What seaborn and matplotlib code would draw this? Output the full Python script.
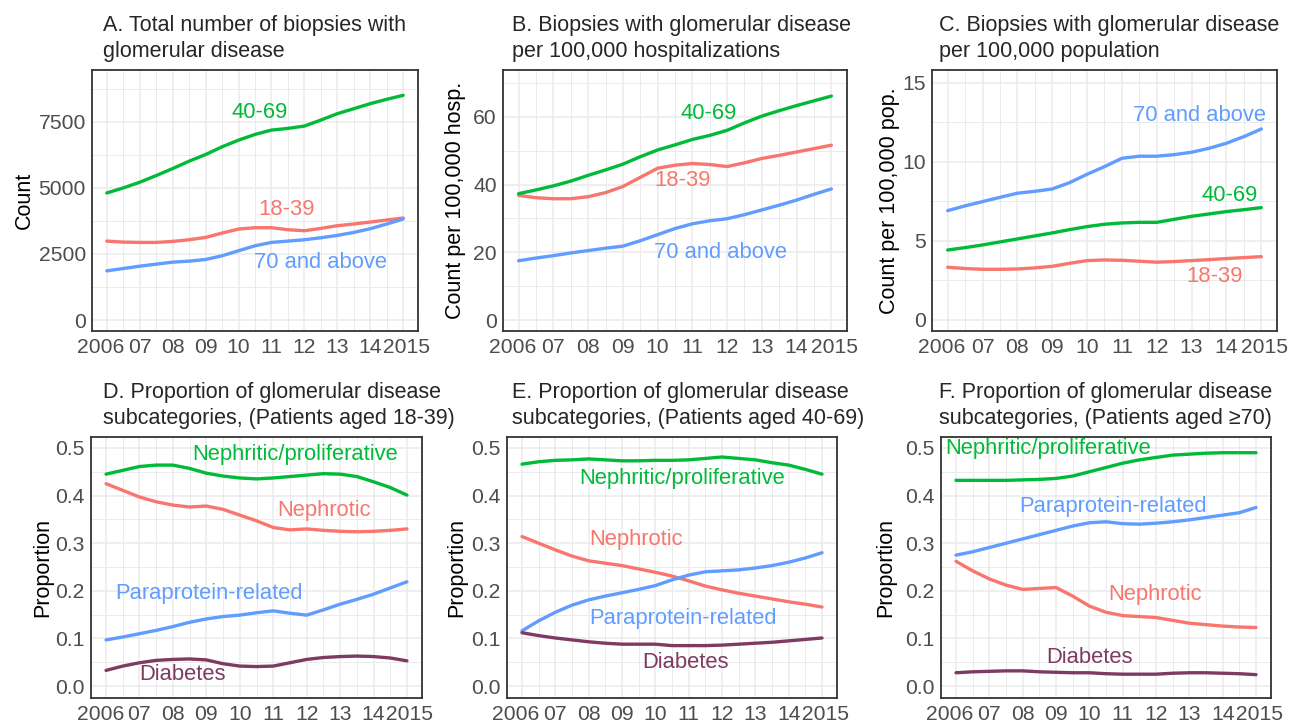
import numpy as np
import pandas as pd
import matplotlib
matplotlib.use("Agg")
import matplotlib.pyplot as plt
from matplotlib.ticker import FixedLocator, FixedFormatter
import seaborn as sns

# ---------------- data ----------------
years = [2006.0, 2006.5, 2007.0, 2007.5, 2008.0, 2008.5, 2009.0, 2009.5, 2010.0, 2010.5,
         2011.0, 2011.5, 2012.0, 2012.5, 2013.0, 2013.5, 2014.0, 2014.5, 2015.0]
year_ticks = [2006, 2007, 2008, 2009, 2010, 2011, 2012, 2013, 2014, 2015]
year_labels = ["2006  ", "07", "08", "09", "10", "11", "12", "13", "14", " 2015"]

age_groups = ["18-39", "40-69", "70 and above"]
subcats = ["Nephrotic", "Nephritic/proliferative", "Paraprotein-related", "Diabetes"]

# A. total count
a_18_39 = [2984, 2946, 2934, 2934, 2972, 3035, 3123, 3288, 3440, 3490, 3490, 3414, 3376, 3465, 3566, 3630, 3705, 3781, 3857]
a_40_69 = [4805, 4995, 5210, 5463, 5728, 6007, 6259, 6550, 6803, 7018, 7183, 7246, 7335, 7562, 7802, 7992, 8182, 8346, 8498]
a_70 = [1859, 1947, 2036, 2112, 2188, 2226, 2289, 2428, 2618, 2807, 2934, 2984, 3035, 3111, 3199, 3313, 3452, 3630, 3819]

# B. per 100,000 hospitalizations
b_18_39 = [36.8, 36.1, 35.8, 35.8, 36.4, 37.6, 39.4, 42.1, 44.8, 45.7, 46.2, 45.9, 45.3, 46.4, 47.7, 48.6, 49.6, 50.6, 51.6]
b_40_69 = [37.3, 38.4, 39.6, 41.0, 42.7, 44.3, 46.0, 48.2, 50.2, 51.7, 53.3, 54.5, 56.0, 58.2, 60.2, 61.8, 63.3, 64.7, 66.1]
b_70 = [17.5, 18.3, 19.0, 19.8, 20.5, 21.2, 21.8, 23.4, 25.2, 27.0, 28.4, 29.3, 29.9, 31.1, 32.5, 33.9, 35.4, 37.1, 38.7]

# C. per 100,000 population
c_18_39 = [3.33, 3.25, 3.20, 3.20, 3.22, 3.29, 3.39, 3.58, 3.75, 3.79, 3.77, 3.71, 3.65, 3.69, 3.75, 3.81, 3.88, 3.94, 4.00]
c_40_69 = [4.42, 4.57, 4.74, 4.93, 5.12, 5.31, 5.50, 5.71, 5.90, 6.05, 6.13, 6.17, 6.17, 6.36, 6.55, 6.70, 6.85, 6.97, 7.10]
c_70 = [6.91, 7.21, 7.48, 7.75, 8.01, 8.13, 8.28, 8.68, 9.21, 9.69, 10.22, 10.35, 10.35, 10.45, 10.60, 10.85, 11.17, 11.59, 12.07]

# D. proportions, aged 18-39
d_nephrotic = [0.425, 0.411, 0.397, 0.387, 0.380, 0.376, 0.378, 0.371, 0.359, 0.347, 0.333, 0.328, 0.330, 0.327, 0.325, 0.324, 0.325, 0.327, 0.330]
d_nephritic = [0.445, 0.453, 0.461, 0.464, 0.464, 0.457, 0.447, 0.441, 0.437, 0.435, 0.437, 0.440, 0.443, 0.446, 0.445, 0.440, 0.429, 0.417, 0.401]
d_para = [0.097, 0.103, 0.110, 0.117, 0.125, 0.134, 0.141, 0.146, 0.149, 0.154, 0.158, 0.153, 0.149, 0.160, 0.172, 0.182, 0.193, 0.206, 0.219]
d_diab = [0.033, 0.042, 0.049, 0.054, 0.056, 0.057, 0.055, 0.047, 0.042, 0.041, 0.042, 0.049, 0.056, 0.060, 0.062, 0.063, 0.062, 0.059, 0.053]

# E. proportions, aged 40-69
e_nephrotic = [0.314, 0.300, 0.286, 0.273, 0.263, 0.258, 0.253, 0.246, 0.239, 0.231, 0.221, 0.210, 0.202, 0.195, 0.189, 0.183, 0.177, 0.172, 0.166]
e_nephritic = [0.466, 0.471, 0.474, 0.475, 0.477, 0.475, 0.473, 0.473, 0.474, 0.474, 0.475, 0.478, 0.481, 0.478, 0.475, 0.469, 0.464, 0.455, 0.445]
e_para = [0.116, 0.137, 0.155, 0.170, 0.181, 0.189, 0.196, 0.203, 0.211, 0.223, 0.233, 0.240, 0.242, 0.244, 0.248, 0.253, 0.260, 0.269, 0.280]
e_diab = [0.112, 0.106, 0.101, 0.097, 0.093, 0.090, 0.088, 0.088, 0.088, 0.085, 0.085, 0.085, 0.086, 0.088, 0.090, 0.092, 0.095, 0.098, 0.101]

# F. proportions, aged >=70
f_nephrotic = [0.262, 0.242, 0.225, 0.212, 0.203, 0.205, 0.207, 0.189, 0.168, 0.155, 0.148, 0.146, 0.144, 0.138, 0.132, 0.129, 0.126, 0.124, 0.123]
f_nephritic = [0.432, 0.432, 0.432, 0.432, 0.433, 0.434, 0.436, 0.441, 0.450, 0.459, 0.468, 0.475, 0.480, 0.485, 0.487, 0.489, 0.490, 0.490, 0.490]
f_para = [0.275, 0.282, 0.291, 0.300, 0.309, 0.318, 0.327, 0.336, 0.343, 0.345, 0.341, 0.340, 0.342, 0.345, 0.349, 0.354, 0.359, 0.364, 0.375]
f_diab = [0.028, 0.030, 0.031, 0.032, 0.032, 0.030, 0.029, 0.028, 0.028, 0.026, 0.025, 0.025, 0.025, 0.027, 0.028, 0.028, 0.027, 0.026, 0.024]

titles = [
    ["A. Total number of biopsies with", "glomerular disease"],
    ["B. Biopsies with glomerular disease", "per 100,000 hospitalizations"],
    ["C. Biopsies with glomerular disease", "per 100,000 population"],
    ["D. Proportion of glomerular disease", "subcategories, (Patients aged 18-39)"],
    ["E. Proportion of glomerular disease", "subcategories, (Patients aged 40-69)"],
    ["F. Proportion of glomerular disease", "subcategories, (Patients aged \u226570)"],
]
ylabels = ["Count", "Count per 100,000 hosp.", "Count per 100,000 pop.",
           "Proportion", "Proportion", "Proportion"]

# ---------------- style ----------------
sns.set_theme(style="whitegrid")
plt.rcParams['font.family'] = ['Liberation Sans', 'DejaVu Sans']

age_palette = {"18-39": "#F8766D", "40-69": "#00BA38", "70 and above": "#619CFF"}
sub_palette = {"Nephrotic": "#F8766D", "Nephritic/proliferative": "#00BA38",
               "Paraprotein-related": "#619CFF", "Diabetes": "#7E3A60"}

W, H = 1291, 724
fig = plt.figure(figsize=(W / 100, H / 100), dpi=100)
fig.patch.set_facecolor("white")

def rect(l, r, t, b):
    return [l / W, (H - b) / H, (r - l) / W, (b - t) / H]

rects = [rect(92, 418, 70, 331), rect(503, 847, 70, 331), rect(932, 1277, 70, 331),
         rect(91, 422, 437, 698), rect(507, 837, 437, 698), rect(941, 1271, 437, 698)]

ylims = [(-416, 9455), (-3.24, 73.8), (-0.70, 15.8), (-0.025, 0.523), (-0.025, 0.523), (-0.025, 0.523)]
ymaj = [[0, 2500, 5000, 7500], [0, 20, 40, 60], [0, 5, 10, 15],
        [0.0, 0.1, 0.2, 0.3, 0.4, 0.5]] + [[0.0, 0.1, 0.2, 0.3, 0.4, 0.5]] * 2
ymaj_lab = [["0", "2500", "5000", "7500"], ["0", "20", "40", "60"], ["0", "5", "10", "15"]] + \
           [["0.0", "0.1", "0.2", "0.3", "0.4", "0.5"]] * 3
ymin = [[1250, 3750, 6250, 8750], [10, 30, 50, 70], [2.5, 7.5, 12.5],
        [0.05, 0.15, 0.25, 0.35, 0.45]] + [[0.05, 0.15, 0.25, 0.35, 0.45]] * 2
ylab_x = [-0.174, -0.107, -0.094, -0.115, -0.119, -0.136]
title_x = [103, 512, 939, 103, 512, 939]
title_y = [(31, 57), (31, 57), (31, 57), (398, 424), (398, 424), (398, 424)]

def age_df(v18, v40, v70):
    return pd.DataFrame({
        "year": years * 3,
        "value": v18 + v40 + v70,
        "group": ["18-39"] * len(years) + ["40-69"] * len(years) + ["70 and above"] * len(years),
    })

def sub_df(nep, nph, par, dia):
    n = len(years)
    return pd.DataFrame({
        "year": years * 4,
        "value": nep + nph + par + dia,
        "group": ["Nephrotic"] * n + ["Nephritic/proliferative"] * n + ["Paraprotein-related"] * n + ["Diabetes"] * n,
    })

frames = [age_df(a_18_39, a_40_69, a_70), age_df(b_18_39, b_40_69, b_70), age_df(c_18_39, c_40_69, c_70),
          sub_df(d_nephrotic, d_nephritic, d_para, d_diab), sub_df(e_nephrotic, e_nephritic, e_para, e_diab),
          sub_df(f_nephrotic, f_nephritic, f_para, f_diab)]
palettes = [age_palette] * 3 + [sub_palette] * 3

# label positions (x, y) in data coords per panel
labels = [
    {"40-69": (2010.65, 7853), "18-39": (2011.47, 4173), "70 and above": (2012.5, 2162)},
    {"40-69": (2011.46, 61.1), "18-39": (2010.71, 41.3), "70 and above": (2011.8, 19.8)},
    {"70 and above": (2013.22, 12.9), "40-69": (2014.09, 7.84), "18-39": (2013.66, 2.72)},
    {"Nephritic/proliferative": (2011.67, 0.487), "Nephrotic": (2012.52, 0.368),
     "Paraprotein-related": (2009.08, 0.195), "Diabetes": (2008.3, 0.025)},
    {"Nephritic/proliferative": (2010.8, 0.435), "Nephrotic": (2009.41, 0.307),
     "Paraprotein-related": (2010.83, 0.141), "Diabetes": (2010.92, 0.050)},
    {"Nephritic/proliferative": (2008.77, 0.498), "Paraprotein-related": (2010.7, 0.378),
     "Nephrotic": (2011.96, 0.193), "Diabetes": (2010.0, 0.059)},
]

for i in range(6):
    ax = fig.add_axes(rects[i])
    ax.set_facecolor("white")
    sns.lineplot(data=frames[i], x="year", y="value", hue="group", palette=palettes[i],
                 linewidth=2.4, legend=False, ax=ax, sort=True)
    for line in ax.get_lines():
        line.set_solid_capstyle("round")
        line.set_solid_joinstyle("round")
    ax.set_xlim(2005.55, 2015.45)
    ax.set_ylim(*ylims[i])
    ax.xaxis.set_major_locator(FixedLocator(year_ticks))
    ax.xaxis.set_major_formatter(FixedFormatter(year_labels))
    ax.xaxis.set_minor_locator(FixedLocator([y + 0.5 for y in year_ticks[:-1]]))
    ax.yaxis.set_major_locator(FixedLocator(ymaj[i]))
    ax.yaxis.set_major_formatter(FixedFormatter(ymaj_lab[i]))
    ax.yaxis.set_minor_locator(FixedLocator(ymin[i]))
    ax.grid(which="major", color="#EBEBEB", linewidth=1.1)
    ax.grid(which="minor", color="#EBEBEB", linewidth=0.7)
    ax.set_axisbelow(True)
    for s in ax.spines.values():
        s.set_visible(True)
        s.set_color("#333333")
        s.set_linewidth(1.3)
    ax.tick_params(axis="both", which="major", length=3.4, width=1.0, color="#333333",
                   labelsize=15.2, labelcolor="#4D4D4D")
    ax.tick_params(axis="x", which="major", pad=1.5)
    ax.tick_params(axis="y", which="major", pad=1.0)
    ax.tick_params(axis="both", which="minor", length=0)
    ax.set_xlabel("")
    ax.set_ylabel(ylabels[i], fontsize=15.5, color="black")
    ax.yaxis.set_label_coords(ylab_x[i], 0.5)
    for name, (lx, ly) in labels[i].items():
        ax.text(lx, ly, name, color=palettes[i][name], fontsize=15.8, ha="center", va="center")
    l1, l2 = titles[i]
    fig.text(title_x[i] / W, 1 - title_y[i][0] / H, l1, fontsize=15.5, ha="left", va="baseline")
    fig.text(title_x[i] / W, 1 - title_y[i][1] / H, l2, fontsize=15.5, ha="left", va="baseline")

fig.savefig("out.png", dpi=100, facecolor="white")
